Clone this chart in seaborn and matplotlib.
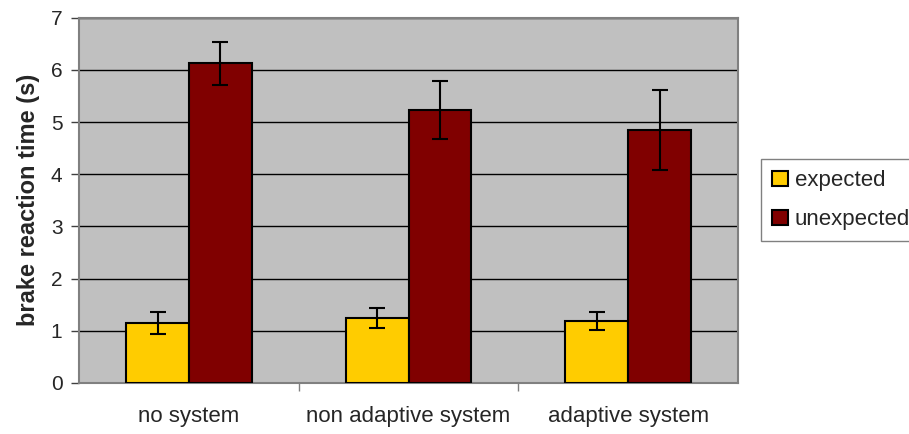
import numpy as np
import pandas as pd
import seaborn as sns
import matplotlib.pyplot as plt

# --- Data ---
CATEGORIES = ['no system', 'non adaptive system', 'adaptive system']
EXPECTED = [1.15, 1.24, 1.19]
UNEXPECTED = [6.13, 5.23, 4.85]
EXPECTED_ERR = [0.21, 0.19, 0.17]
UNEXPECTED_ERR = [0.41, 0.56, 0.77]
SERIES = ['expected', 'unexpected']
COLORS = ['#FFCC00', '#800000']

df = pd.DataFrame({
    'condition': CATEGORIES * 2,
    'series': [SERIES[0]] * 3 + [SERIES[1]] * 3,
    'time': EXPECTED + UNEXPECTED,
    'err': EXPECTED_ERR + UNEXPECTED_ERR,
})

sns.set_style('white')
plt.rcParams['font.family'] = ['Liberation Sans', 'DejaVu Sans']

fig = plt.figure(figsize=(9.09, 4.34), dpi=100)
ax = fig.add_axes([0.087, 0.118, 0.725, 0.841])
ax.set_facecolor('#C0C0C0')

sns.barplot(data=df, x='condition', y='time', hue='series', order=CATEGORIES,
            hue_order=SERIES, palette=COLORS, saturation=1, width=0.572, gap=0,
            edgecolor='black', linewidth=1.5, errorbar=None, ax=ax, zorder=3)

# error bars placed on the centre of each drawn bar
for i, s in enumerate(SERIES):
    cont = ax.containers[i]
    sub = df[df['series'] == s].set_index('condition').loc[CATEGORIES]
    xs = [p.get_x() + p.get_width() / 2 for p in cont.patches]
    ax.errorbar(xs, sub['time'].values, yerr=sub['err'].values, fmt='none',
                ecolor='black', elinewidth=1.5, capsize=6, capthick=1.5, zorder=4)

ax.set_ylim(0, 7)
ax.set_xlim(-0.5, 2.5)
ax.set_yticks(range(0, 8))
ax.yaxis.grid(True, color='black', linewidth=1, zorder=1)
ax.set_axisbelow(True)

ax.set_xlabel('')
ax.set_ylabel('brake reaction time (s)', fontsize=17, fontweight='bold', labelpad=8)
ax.tick_params(axis='y', labelsize=15, length=6, width=1, color='#404040',
               left=True, direction='out', pad=6)
ax.tick_params(axis='x', which='major', labelsize=16, length=0, pad=17)
ax.set_xticks([0.5, 1.5], minor=True)
ax.tick_params(axis='x', which='minor', length=6, width=1, color='#808080',
               bottom=True, direction='out')

for side in ['left', 'bottom', 'top', 'right']:
    ax.spines[side].set_color('#808080')
    ax.spines[side].set_linewidth(1.5)
    ax.spines[side].set_visible(True)

leg = ax.legend(loc='center left', bbox_to_anchor=(1.035, 0.5), fontsize=16,
                frameon=True, fancybox=False, edgecolor='#606060', handlelength=0.7,
                handleheight=0.7, handletextpad=0.3, borderpad=0.5, labelspacing=0.8,
                borderaxespad=0)
leg.get_frame().set_linewidth(1)

fig.savefig('out.png', dpi=100)
